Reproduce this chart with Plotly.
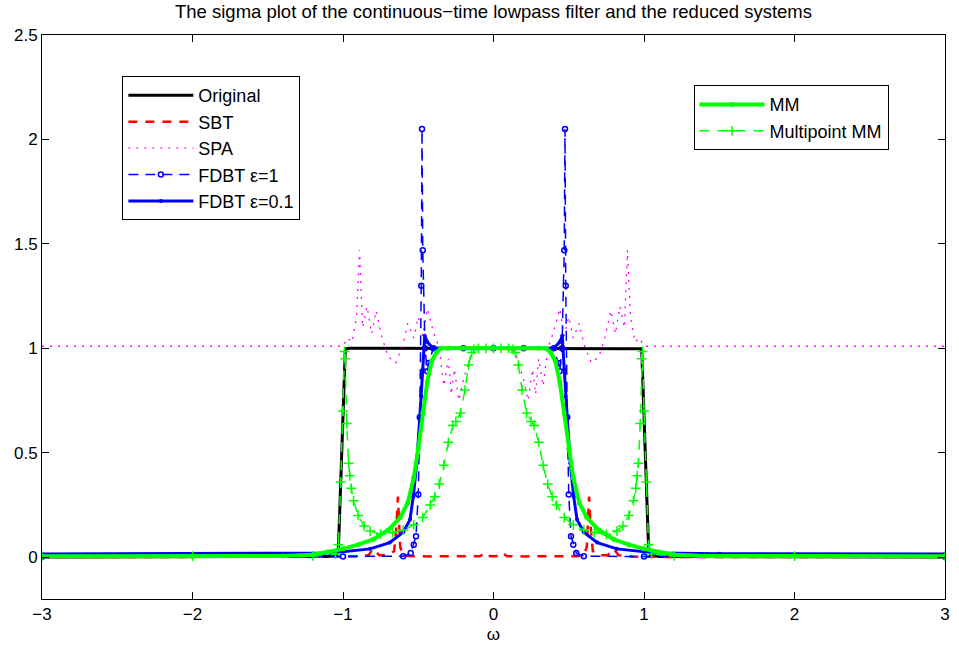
import plotly.graph_objects as go

# ---------------- data (omega >= 0 half; the sigma plot is symmetric in omega) -------------
w_orig = [0, 0.5, 0.9, 0.96, 0.98, 0.985, 1.0, 1.015, 1.03, 1.045, 1.1, 2.0, 3.0]
orig = [1.0, 1.0, 1.0, 1.0, 0.998, 0.99, 0.68, 0.36, 0.05, 0.01, 0.004, 0.002, 0.001]

w_sbt = [0, 0.04, 0.06, 0.09, 0.2, 0.4, 0.55, 0.6, 0.62, 0.635, 0.645, 0.66, 0.7, 0.76,
         0.8, 0.83, 0.9, 1.2, 3.0]
sbt = [0.005, 0.006, 0.02, 0.005, 0.004, 0.004, 0.005, 0.008, 0.05, 0.29, 0.15, 0.03, 0.01,
       0.01, 0.04, 0.01, 0.003, 0.001, 0.0005]

w_spa = [0, 0.1, 0.15, 0.2, 0.23, 0.26, 0.28, 0.3, 0.33, 0.36, 0.4, 0.44, 0.47, 0.5, 0.53,
         0.57, 0.6, 0.65, 0.7, 0.74, 0.78, 0.81, 0.84, 0.87, 0.89, 0.91, 0.94, 0.97, 1.0, 3.0]
spa = [1.0, 1.0, 0.97, 0.85, 0.75, 0.9, 0.78, 0.95, 0.82, 1.0, 1.08, 1.19, 1.06, 1.15, 1.05,
       1.12, 1.02, 0.93, 0.96, 1.05, 1.18, 1.07, 1.2, 1.1, 1.47, 1.15, 1.03, 1.05, 1.01, 1.01]

w_fd1 = [0, 0.2, 0.4, 0.43, 0.44, 0.455, 0.47, 0.475, 0.48, 0.49, 0.5, 0.515, 0.53, 0.55,
         0.6, 1.0, 3.0]
fd1 = [1.0, 1.0, 1.0, 0.93, 0.89, 1.0, 1.47, 2.05, 1.3, 0.67, 0.3, 0.1, 0.06, 0.02,
       0.005, 0.003, 0.002]

w_fd01 = [0, 0.2, 0.4, 0.44, 0.457, 0.47, 0.48, 0.49, 0.51, 0.533, 0.555, 0.6, 0.69, 0.82,
          1.08, 1.5, 3.0]
fd01 = [1.0, 1.0, 1.0, 1.03, 1.06, 0.9, 0.77, 0.67, 0.45, 0.29, 0.18, 0.12, 0.07, 0.04,
        0.02, 0.017, 0.015]

w_mm = [0, 0.1, 0.2, 0.3, 0.35, 0.38, 0.41, 0.44, 0.47, 0.5, 0.53, 0.57, 0.62, 0.7, 0.8,
        0.9, 1.0, 1.1, 1.2, 1.4, 2.0, 3.0]
mm = [1.0, 1.0, 1.0, 1.0, 1.0, 0.98, 0.94, 0.84, 0.69, 0.52, 0.38, 0.26, 0.19, 0.13, 0.085,
      0.06, 0.04, 0.025, 0.012, 0.006, 0.005, 0.005]

w_mp = [0, 0.05, 0.1, 0.13, 0.145, 0.165, 0.19, 0.22, 0.25, 0.27, 0.3, 0.33, 0.36, 0.39,
        0.42, 0.47, 0.53, 0.6, 0.67, 0.75, 0.82, 0.86, 0.9, 0.93, 0.945, 0.955, 0.963, 0.975,
        0.985, 0.99, 1.0, 1.015, 1.03, 1.05, 1.2, 2.0, 3.0]
mp = [1.0, 1.0, 1.0, 0.995, 0.98, 0.92, 0.8, 0.69, 0.65, 0.63, 0.55, 0.44, 0.35, 0.29,
      0.25, 0.19, 0.155, 0.13, 0.118, 0.11, 0.125, 0.15, 0.2, 0.27, 0.33, 0.39, 0.45, 0.64,
      0.95, 0.985, 0.7, 0.36, 0.06, 0.015, 0.006, 0.005, 0.005]

x_ticks = [-3, -2, -1, 0, 1, 2, 3]
y_ticks = [0, 0.5, 1, 1.5, 2, 2.5]


def mirror(w, v):
    xs = [-a for a in reversed(w[1:])] + list(w)
    ys = list(reversed(v[1:])) + list(v)
    return xs, ys


fig = go.Figure()

x, y = mirror(w_orig, orig)
fig.add_trace(go.Scatter(x=x, y=y, mode="lines", name="Original",
                         line=dict(color="black", width=3), legend="legend"))
x, y = mirror(w_sbt, sbt)
fig.add_trace(go.Scatter(x=x, y=y, mode="lines", name="SBT",
                         line=dict(color="#FF0000", width=2.5, dash="9px,8px"), legend="legend"))
x, y = mirror(w_spa, spa)
fig.add_trace(go.Scatter(x=x, y=y, mode="lines", name="SPA",
                         line=dict(color="#FF00FF", width=1.3, dash="2px,6px"), legend="legend"))
x, y = mirror(w_fd1, fd1)
fig.add_trace(go.Scatter(x=x, y=y, mode="lines+markers", name="FDBT \u03b5=1",
                         line=dict(color="#0000FF", width=1.5, dash="10px,7px"),
                         marker=dict(symbol="circle-open", size=5, color="#0000FF",
                                     line=dict(width=1.5, color="#0000FF")),
                         legend="legend"))
x, y = mirror(w_fd01, fd01)
fig.add_trace(go.Scatter(x=x, y=y, mode="lines+markers", name="FDBT \u03b5=0.1",
                         line=dict(color="#0000FF", width=3),
                         marker=dict(symbol="circle", size=4, color="#0000FF"),
                         legend="legend"))
x, y = mirror(w_mm, mm)
fig.add_trace(go.Scatter(x=x, y=y, mode="lines+markers", name="MM",
                         line=dict(color="#00FF00", width=4),
                         marker=dict(symbol="circle", size=5, color="#00FF00"),
                         legend="legend2"))
x, y = mirror(w_mp, mp)
fig.add_trace(go.Scatter(x=x, y=y, mode="lines+markers", name="Multipoint MM",
                         line=dict(color="#00FF00", width=1.5, dash="10px,8px"),
                         marker=dict(symbol="cross-thin", size=7, color="#00FF00",
                                     line=dict(width=1.5, color="#00FF00")),
                         legend="legend2"))

font_family = "Liberation Sans, Arial, Helvetica, sans-serif"
axis_common = dict(showline=True, linecolor="black", linewidth=1, mirror="ticks",
                   ticks="inside", ticklen=7, tickcolor="black", showgrid=False,
                   zeroline=False, tickfont=dict(size=17, color="black"))

fig.update_layout(
    width=959, height=651,
    margin=dict(l=42, r=9, t=35, b=52),
    paper_bgcolor="white", plot_bgcolor="white",
    font=dict(family=font_family, color="black"),
    title=dict(text="The sigma plot of the continuous\u2212time lowpass filter and the reduced systems",
               x=0.5, xref="paper", xanchor="center", y=0.982, yanchor="middle",
               font=dict(size=18.5, color="black")),
    xaxis=dict(range=[-3, 3], tickvals=x_ticks,
               title=dict(text="\u03c9", font=dict(size=17), standoff=4), **axis_common),
    yaxis=dict(range=[-0.2, 2.5], tickvals=y_ticks, **axis_common),
    legend=dict(x=0.089, y=0.927, xanchor="left", yanchor="top", bgcolor="white",
                bordercolor="black", borderwidth=1, font=dict(size=18, color="black"),
                itemwidth=65, tracegroupgap=0),
    legend2=dict(x=0.7215, y=0.911, xanchor="left", yanchor="top", bgcolor="white",
                 bordercolor="black", borderwidth=1, font=dict(size=18, color="black"),
                 itemwidth=65, tracegroupgap=0),
    showlegend=True,
)

fig.write_html("out.html", config={"displayModeBar": False},
               post_script="document.body.style.margin='0';")
